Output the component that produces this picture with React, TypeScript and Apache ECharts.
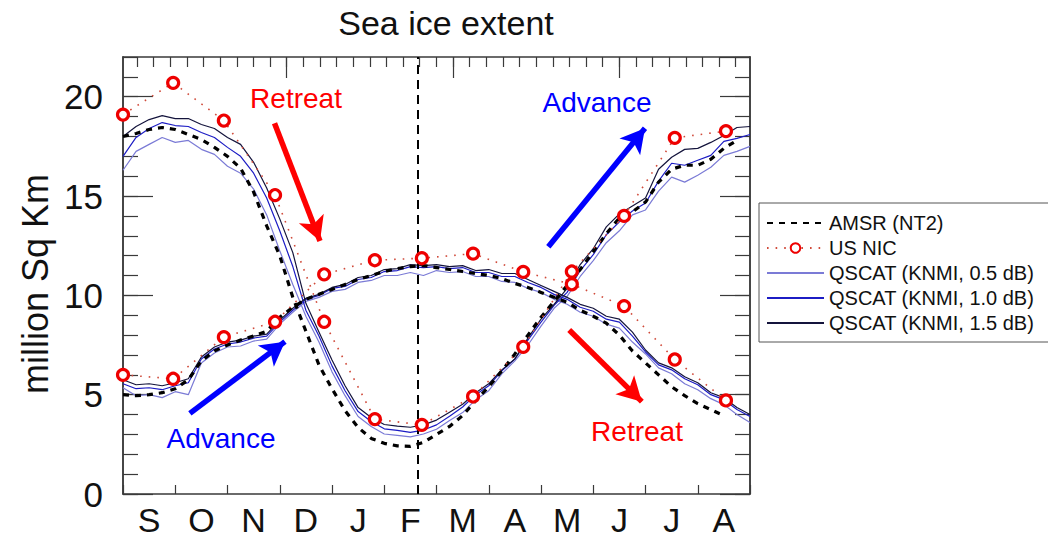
import { useEffect, useRef } from 'react';
import * as echarts from 'echarts';

// Month initials along the bottom axis, September through August.
const MONTHS = ['S', 'O', 'N', 'D', 'J', 'F', 'M', 'A', 'M', 'J', 'J', 'A'];

// Samples are taken every quarter month, starting at 1 September (x = 0).
const STEP = 0.25;

// Southern (large seasonal cycle) extent, million sq km.
const SOUTH_AMSR = [18.0, 18.15, 18.35, 18.45, 18.35, 18.1, 17.85, 17.45, 17.0, 16.4, 15.2, 13.5, 12.0, 9.9, 8.2, 6.5, 5.3, 4.2, 3.35, 2.8, 2.55, 2.42, 2.4, 2.6, 3.0, 3.4, 3.95, 4.7, 5.4, 6.2, 7.05, 8.0, 8.9, 9.7, 10.5, 11.3, 12.2, 13.1, 13.9, 14.2, 14.7, 15.7, 16.35, 16.55, 16.55, 16.85, 17.4, 17.8];
const SOUTH_Q05 = [16.3, 17.25, 17.6, 17.95, 17.7, 17.8, 17.35, 17.1, 16.5, 16.15, 15.35, 14.05, 12.25, 10.55, 8.95, 7.65, 6.15, 4.95, 3.9, 3.4, 3.02, 2.95, 2.88, 3.02, 3.26, 3.7, 4.1, 4.75, 5.2, 6.05, 6.7, 7.5, 8.45, 9.35, 9.95, 10.95, 11.75, 12.65, 13.25, 14.05, 14.3, 15.25, 15.95, 15.7, 16.05, 16.45, 17.05, 17.25, 17.5];
const SOUTH_Q10 = [17.0, 17.95, 18.4, 18.7, 18.55, 18.5, 18.2, 17.95, 17.45, 17.0, 16.15, 14.9, 13.25, 11.45, 9.25, 7.95, 6.45, 5.2, 4.15, 3.65, 3.28, 3.2, 3.1, 3.22, 3.48, 3.92, 4.38, 5.0, 5.45, 6.2, 6.8, 7.75, 8.65, 9.5, 10.15, 11.25, 12.05, 13.05, 13.7, 14.25, 14.65, 15.75, 16.65, 16.55, 16.8, 17.05, 17.75, 17.9, 18.1];
const SOUTH_Q15 = [18.0, 18.5, 18.85, 19.05, 18.9, 18.9, 18.6, 18.4, 17.95, 17.6, 16.7, 15.4, 13.85, 12.15, 9.6, 8.15, 6.75, 5.45, 4.35, 3.85, 3.5, 3.42, 3.36, 3.48, 3.72, 4.12, 4.52, 5.1, 5.55, 6.25, 6.8, 7.85, 8.8, 9.55, 10.35, 11.55, 12.35, 13.45, 14.1, 14.5, 14.9, 16.35, 16.95, 17.35, 17.4, 17.7, 18.05, 18.45, 18.5];

// Northern (small seasonal cycle) extent, million sq km.
const NORTH_AMSR = [5.0, 4.95, 5.0, 5.1, 5.3, 5.75, 6.7, 7.2, 7.5, 7.75, 7.95, 8.2, 8.9, 9.4, 9.8, 10.05, 10.3, 10.55, 10.8, 11.0, 11.2, 11.35, 11.45, 11.5, 11.4, 11.3, 11.2, 11.1, 11.0, 10.85, 10.6, 10.4, 10.15, 9.9, 9.65, 9.25, 8.95, 8.6, 8.0, 7.2, 6.6, 6.0, 5.4, 4.95, 4.55, 4.25, 3.95];
const NORTH_Q05 = [5.35, 4.95, 5.0, 4.85, 5.15, 5.0, 6.6, 7.1, 7.4, 7.45, 7.7, 7.8, 8.55, 9.15, 9.7, 9.9, 10.2, 10.3, 10.65, 10.75, 11.0, 11.0, 11.15, 11.0, 11.25, 11.15, 11.2, 10.95, 10.95, 10.7, 10.65, 10.35, 10.15, 9.8, 9.55, 9.15, 8.95, 8.55, 8.35, 7.65, 7.05, 6.35, 6.05, 5.55, 5.25, 4.8, 4.5, 4.0, 3.6];
const NORTH_Q10 = [5.55, 5.3, 5.35, 5.25, 5.45, 5.6, 6.8, 7.3, 7.55, 7.65, 7.85, 7.95, 8.65, 9.25, 9.8, 10.0, 10.35, 10.45, 10.8, 10.9, 11.2, 11.25, 11.45, 11.4, 11.45, 11.35, 11.4, 11.15, 11.15, 10.95, 10.95, 10.65, 10.4, 10.05, 9.8, 9.4, 9.2, 8.8, 8.65, 7.95, 7.15, 6.5, 6.25, 5.8, 5.5, 5.0, 4.75, 4.25, 3.9];
const NORTH_Q15 = [5.75, 5.5, 5.55, 5.45, 5.6, 5.8, 6.9, 7.4, 7.65, 7.75, 7.95, 8.05, 8.75, 9.35, 9.85, 10.05, 10.4, 10.55, 10.9, 11.0, 11.3, 11.35, 11.55, 11.5, 11.55, 11.45, 11.5, 11.25, 11.3, 11.1, 11.1, 10.8, 10.5, 10.2, 9.9, 9.55, 9.35, 8.95, 8.8, 8.15, 7.25, 6.6, 6.35, 5.9, 5.6, 5.1, 4.85, 4.35, 4.0];

// US NIC monthly charts (month offset from 1 Sept, extent).
const NIC_MONTH = [0, 0.96, 1.93, 2.91, 3.85, 4.82, 5.72, 6.7, 7.66, 8.59, 9.59, 10.56, 11.54];
const NIC_SOUTH = [19.1, 20.7, 18.8, 15.05, 8.67, 3.77, 3.48, 4.91, 7.41, 11.2, 14.0, 17.93, 18.27];
const NIC_NORTH = [6.0, 5.8, 7.9, 8.67, 11.06, 11.77, 11.87, 12.1, 11.18, 10.56, 9.46, 6.77, 4.71];

// Date of the vertical reference line (month offset).
const MARK_MONTH = 5.65;

// Annotation arrows: [fromMonth, fromExtent, toMonth, toExtent, colour].
const ARROWS: [number, number, number, number, string][] = [
  [2.9, 18.66, 3.77, 12.74, '#ff0000'],
  [8.14, 12.45, 9.99, 18.41, '#0000ff'],
  [1.28, 4.06, 3.1, 7.67, '#0000ff'],
  [8.54, 8.26, 9.93, 4.65, '#ff0000'],
];

const FONT = '"Liberation Sans", Arial, Helvetica, sans-serif';
const AXIS_COLOR = '#3a3a3a';

const LEGEND = ['AMSR (NT2)', 'US NIC', 'QSCAT (KNMI, 0.5 dB)', 'QSCAT (KNMI, 1.0 dB)', 'QSCAT (KNMI, 1.5 dB)'];

const toPairs = (vals: number[]) => vals.map((v, i) => [i * STEP, v]);
const nicPairs = (vals: number[]) => vals.map((v, i) => [NIC_MONTH[i], v]);

// Top frame ticks (independent scale): minor and major positions.
const TOP_MINOR: number[] = [];
for (let k = 0; k < 37; k++) TOP_MINOR.push(0.84 + k);
const TOP_MAJOR = [9.84, 19.84, 29.84];

function qscat(name: string, vals: number[], color: string, z: number) {
  return {
    name,
    type: 'line',
    data: toPairs(vals),
    symbol: 'none',
    smooth: false,
    z,
    lineStyle: { color, width: 1.2 },
    itemStyle: { color },
  };
}

function amsr(vals: number[], extra?: object) {
  return {
    name: LEGEND[0],
    type: 'line',
    data: toPairs(vals),
    symbol: 'none',
    z: 4,
    lineStyle: { color: '#000', width: 3.2, type: [6, 6] },
    itemStyle: { color: '#000' },
    ...extra,
  };
}

function nic(vals: number[], extra?: object) {
  return {
    name: LEGEND[1],
    type: 'line',
    data: nicPairs(vals),
    symbol: 'circle',
    symbolSize: 11,
    z: 5,
    lineStyle: { color: '#d04a3a', width: 1.6, type: [1.6, 7] },
    itemStyle: { color: '#ffffff', borderColor: '#ee0000', borderWidth: 3.2 },
    ...extra,
  };
}

export default function App() {
  const ref = useRef<HTMLDivElement>(null);

  useEffect(() => {
    if (!ref.current) return;
    const chart = echarts.init(ref.current, null, { renderer: 'svg' });

    const yCommon = {
      type: 'value',
      min: 0,
      max: 22,
      splitLine: { show: false },
      axisLine: { show: true, onZero: false, lineStyle: { color: AXIS_COLOR, width: 1.5 } },
    };

    const option = {
      animation: false,
      backgroundColor: '#ffffff',
      grid: { left: 123, right: 298, top: 57, bottom: 44, containLabel: false },
      legend: {
        orient: 'vertical',
        left: 759,
        top: 203,
        padding: [10, 24, 9, 7],
        itemWidth: 57,
        itemHeight: 12,
        itemGap: 5,
        borderColor: '#555',
        borderWidth: 1,
        textStyle: { fontSize: 20, color: '#111', fontFamily: FONT },
        data: LEGEND.map((name) =>
          name === LEGEND[1]
            ? { name, itemStyle: { color: '#ffffff', borderColor: '#ee0000', borderWidth: 2 } }
            : { name, itemStyle: { opacity: 0 } }
        ),
      },
      xAxis: [
        { type: 'value', min: 0, max: 12, show: false },
        {
          type: 'category',
          position: 'bottom',
          data: MONTHS.map((_, i) => String(i)),
          boundaryGap: true,
          axisLine: { show: true, onZero: false, lineStyle: { color: AXIS_COLOR, width: 1.5 } },
          axisTick: { show: true, inside: true, length: 9, lineStyle: { color: AXIS_COLOR, width: 1.2 } },
          axisLabel: {
            formatter: (_v: string, i: number) => MONTHS[i],
            fontSize: 34,
            color: '#111',
            fontFamily: FONT,
            margin: 9,
          },
          splitLine: { show: false },
        },
        {
          type: 'value',
          position: 'top',
          min: 0,
          max: 37.7,
          axisLine: { show: true, onZero: false, lineStyle: { color: AXIS_COLOR, width: 1.5 } },
          axisTick: { show: true, inside: true, length: 10, customValues: TOP_MINOR, lineStyle: { color: AXIS_COLOR, width: 1.2 } },
          axisLabel: { show: false },
          splitLine: { show: false },
        },
        {
          type: 'value',
          position: 'top',
          min: 0,
          max: 37.7,
          axisLine: { show: false, onZero: false },
          axisTick: { show: true, inside: true, length: 21, customValues: TOP_MAJOR, lineStyle: { color: AXIS_COLOR, width: 1.2 } },
          axisLabel: { show: false },
          splitLine: { show: false },
        },
      ],
      yAxis: [
        {
          ...yCommon,
          position: 'left',
          interval: 5,
          axisTick: { show: true, inside: true, length: 30, lineStyle: { color: AXIS_COLOR, width: 1.2 } },
          axisLabel: { fontSize: 35, color: '#111', fontFamily: FONT, margin: 20, showMaxLabel: false },
        },
        {
          ...yCommon,
          position: 'left',
          interval: 1,
          axisTick: { show: true, inside: true, length: 15, lineStyle: { color: AXIS_COLOR, width: 1.2 } },
          axisLabel: { show: false },
        },
        {
          ...yCommon,
          position: 'right',
          interval: 5,
          axisTick: { show: true, inside: true, length: 30, lineStyle: { color: AXIS_COLOR, width: 1.2 } },
          axisLabel: { show: false },
        },
        {
          ...yCommon,
          position: 'right',
          interval: 1,
          axisTick: { show: true, inside: true, length: 15, lineStyle: { color: AXIS_COLOR, width: 1.2 } },
          axisLabel: { show: false },
        },
      ],
      graphic: [
        {
          type: 'text',
          x: 446,
          y: 23,
          style: { text: 'Sea ice extent', fontSize: 34, fill: '#111', fontFamily: FONT, align: 'center', verticalAlign: 'middle' },
        },
        {
          type: 'text',
          x: 35,
          y: 284,
          rotation: Math.PI / 2,
          style: { text: 'million Sq Km', fontSize: 36, fill: '#111', fontFamily: FONT, align: 'center', verticalAlign: 'middle' },
        },
        {
          type: 'text',
          x: 296,
          y: 98,
          style: { text: 'Retreat', fontSize: 28, fill: '#ff0000', fontFamily: FONT, align: 'center', verticalAlign: 'middle' },
        },
        {
          type: 'text',
          x: 597,
          y: 102,
          style: { text: 'Advance', fontSize: 28, fill: '#0000ff', fontFamily: FONT, align: 'center', verticalAlign: 'middle' },
        },
        {
          type: 'text',
          x: 221,
          y: 438,
          style: { text: 'Advance', fontSize: 28, fill: '#0000ff', fontFamily: FONT, align: 'center', verticalAlign: 'middle' },
        },
        {
          type: 'text',
          x: 637,
          y: 431,
          style: { text: 'Retreat', fontSize: 28, fill: '#ff0000', fontFamily: FONT, align: 'center', verticalAlign: 'middle' },
        },
      ],
      series: [
        qscat(LEGEND[2], SOUTH_Q05, '#7b7bd6', 2),
        qscat(LEGEND[2], NORTH_Q05, '#7b7bd6', 2),
        qscat(LEGEND[3], SOUTH_Q10, '#1c1cc4', 3),
        qscat(LEGEND[3], NORTH_Q10, '#1c1cc4', 3),
        qscat(LEGEND[4], SOUTH_Q15, '#14143c', 3),
        qscat(LEGEND[4], NORTH_Q15, '#14143c', 3),
        amsr(SOUTH_AMSR, {
          markLine: {
            silent: true,
            symbol: ['none', 'none'],
            label: { show: false },
            lineStyle: { color: '#000', width: 2, type: [9, 6] },
            data: [{ xAxis: MARK_MONTH }],
          },
        }),
        amsr(NORTH_AMSR),
        nic(NIC_SOUTH, {
          markLine: {
            silent: true,
            symbol: ['none', 'arrow'],
            symbolSize: [20, 24],
            label: { show: false },
            data: ARROWS.map(([x0, y0, x1, y1, c]) => [
              { coord: [x0, y0], lineStyle: { color: c, width: 5.5, type: 'solid' }, itemStyle: { color: c } },
              { coord: [x1, y1] },
            ]),
          },
        }),
        nic(NIC_NORTH),
      ],
    };

    chart.setOption(option as any);
    return () => chart.dispose();
  }, []);

  return (
    <div
      ref={ref}
      style={{ position: 'absolute', left: 0, top: 0, width: 1048, height: 538, background: '#fff' }}
    />
  );
}
